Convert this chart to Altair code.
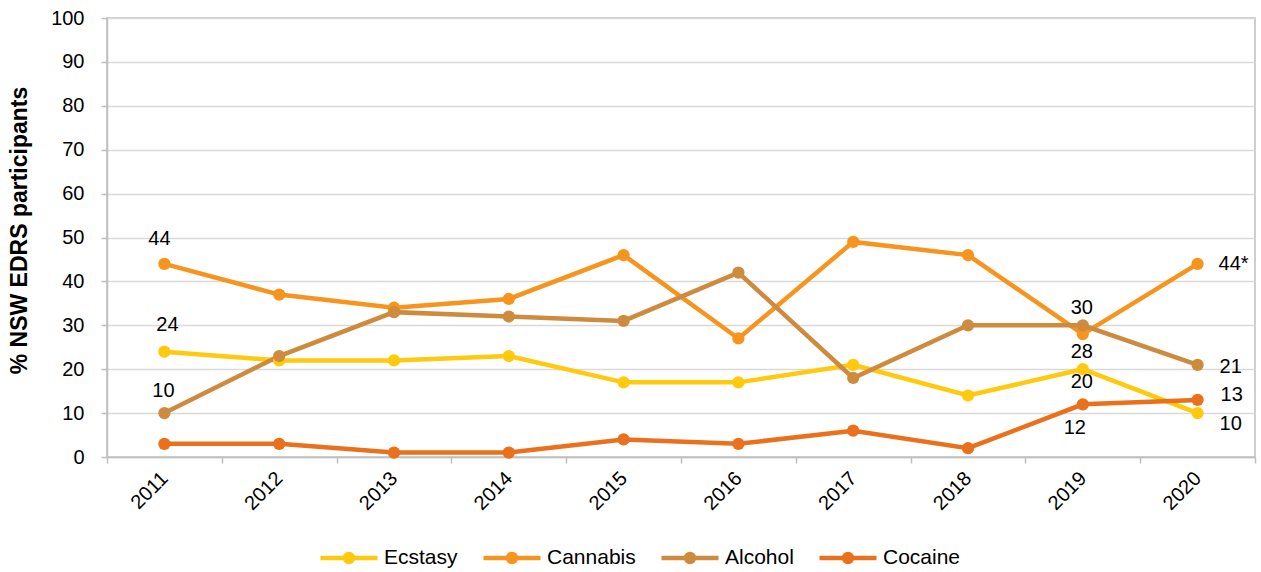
import altair as alt
import pandas as pd

# Share of NSW EDRS participants, by year
years = ["2011", "2012", "2013", "2014", "2015", "2016", "2017", "2018", "2019", "2020"]
ecstasy = [24, 22, 22, 23, 17, 17, 21, 14, 20, 10]
cannabis = [44, 37, 34, 36, 46, 27, 49, 46, 28, 44]
alcohol = [10, 23, 33, 32, 31, 42, 18, 30, 30, 21]
cocaine = [3, 3, 1, 1, 4, 3, 6, 2, 12, 13]

series_names = ["Ecstasy", "Cannabis", "Alcohol", "Cocaine"]
series_colors = ["#FFC90E", "#F7941E", "#CE8B3E", "#EA701B"]
y_ticks = [0, 10, 20, 30, 40, 50, 60, 70, 80, 90, 100]

rows = []
for name, vals in zip(series_names, [ecstasy, cannabis, alcohol, cocaine]):
    for yr, v in zip(years, vals):
        rows.append({"Year": yr, "Series": name, "Value": v})
df = pd.DataFrame(rows)

FONT = "Liberation Sans"
FS = 20
GRID = "#D9D9D9"
AXIS = "#BFBFBF"
W, H = 1148, 439

# legend swatch: a line with a small dot (stroked rings) in the middle
SWATCH = ("M-1,0L1,0"
          "M-0.14,0A0.14,0.14,0,1,1,0.14,0A0.14,0.14,0,1,1,-0.14,0Z"
          "M-0.06,0A0.06,0.06,0,1,1,0.06,0A0.06,0.06,0,1,1,-0.06,0Z")

x_enc = alt.X(
    "Year:O",
    sort=years,
    scale=alt.Scale(type="band", paddingInner=0, paddingOuter=0),
    axis=alt.Axis(
        title=None, labelAngle=-45, labelAlign="right", labelBaseline="middle",
        labelPadding=12, tickBand="extent", tickSize=6, tickColor=AXIS,
        domainColor=AXIS, domainWidth=1.5, tickWidth=1.5, grid=False,
        labelFont=FONT, labelFontSize=FS, labelColor="#000000",
    ),
)
y_scale = alt.Scale(domain=[0, 100], nice=False)
y_enc = alt.Y(
    "Value:Q",
    scale=y_scale,
    axis=alt.Axis(
        values=y_ticks, title="% NSW EDRS participants", titleFont=FONT,
        titleFontSize=23, titleFontWeight="bold", titleColor="#000000",
        titleAngle=-90, titleX=-88, titleY=212, titleAlign="center",
        titleBaseline="middle",
        grid=True, gridColor=GRID, gridWidth=1.5, domainColor=AXIS,
        domainWidth=1.5, tickColor=AXIS, tickWidth=1.5, tickSize=6,
        labelPadding=17, labelFont=FONT, labelFontSize=FS, labelColor="#000000",
    ),
)
color_scale = alt.Scale(domain=series_names, range=series_colors)
color_enc = alt.Color(
    "Series:N",
    sort=series_names,
    scale=color_scale,
    legend=alt.Legend(
        title=None, orient="none", direction="horizontal",
        legendX=211, legendY=509, padding=0,
        symbolType=SWATCH, symbolSize=3249, symbolStrokeWidth=4.5,
        labelOffset=4, columnPadding=16,
        labelFont=FONT, labelFontSize=21, labelColor="#000000",
    ),
)

base = alt.Chart(df)
lines = base.mark_line(strokeWidth=4.5).encode(x=x_enc, y=y_enc, color=color_enc)
points = base.mark_circle(size=150, opacity=1).encode(
    x=x_enc, y=alt.Y("Value:Q", scale=y_scale),
    color=alt.Color("Series:N", sort=series_names, scale=color_scale, legend=None),
)

# Data labels: (year, series, suffix, dx, dy, align)
label_specs = [
    ("2011", "Cannabis", "", -5, -25, "center"),
    ("2011", "Ecstasy", "", 3, -27, "center"),
    ("2011", "Alcohol", "", -1, -22, "center"),
    ("2019", "Alcohol", "", -1, -17, "center"),
    ("2019", "Cannabis", "", -1, 18, "center"),
    ("2019", "Ecstasy", "", -1, 13, "center"),
    ("2019", "Cocaine", "", -8, 24, "center"),
    ("2020", "Cannabis", "*", 21, 0, "left"),
    ("2020", "Alcohol", "", 22, 2, "left"),
    ("2020", "Cocaine", "", 23, -5, "left"),
    ("2020", "Ecstasy", "", 22, 11, "left"),
]
labels = []
for yr, s, suffix, dx, dy, align in label_specs:
    labels.append(
        base.transform_filter(
            (alt.datum.Year == yr) & (alt.datum.Series == s)
        ).transform_calculate(
            label="format(datum.Value, 'd') + '" + suffix + "'"
        ).mark_text(
            dx=dx, dy=dy, align=align, baseline="middle", font=FONT,
            fontSize=FS, color="#000000",
        ).encode(x=alt.X("Year:O", sort=years), y=alt.Y("Value:Q", scale=y_scale), text="label:N")
    )

chart = alt.layer(lines, points, *labels).properties(
    width=W, height=H,
    padding={"left": 107, "top": 18, "right": 6, "bottom": 115},
    autosize=alt.AutoSizeParams(type="none"),
).configure_view(stroke=AXIS, strokeWidth=1.5)

chart.save("out.html", embed_options={"renderer": "svg", "actions": False})
